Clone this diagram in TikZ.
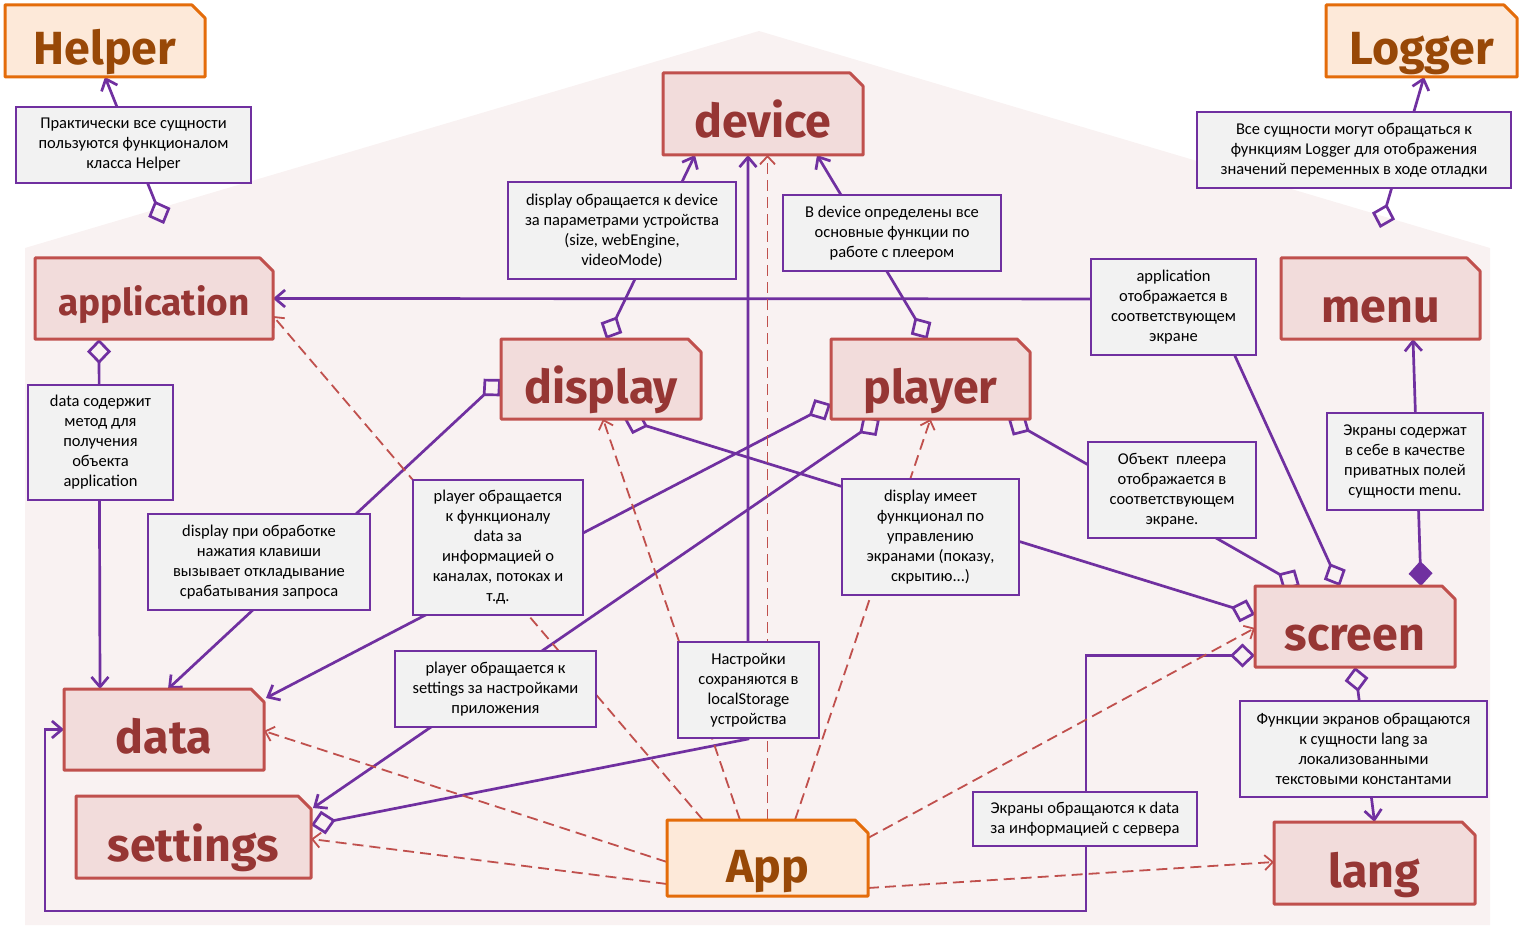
\documentclass[tikz,border=0pt]{standalone}
\usepackage{fontspec}
\setmainfont{Carlito}
\newfontfamily\hfont{Fira Sans}
\usetikzlibrary{arrows.meta,calc}
\pgfdeclarelayer{back}
\pgfdeclarelayer{edges}
\pgfdeclarelayer{boxes}
\pgfsetlayers{back,edges,boxes,main}
\definecolor{pur}{HTML}{7030A0}
\definecolor{redb}{HTML}{C0504D}
\definecolor{redf}{HTML}{F2DCDB}
\definecolor{redt}{HTML}{963634}
\definecolor{orb}{HTML}{E46C0A}
\definecolor{orf}{HTML}{FDE9D9}
\definecolor{ort}{HTML}{984807}
\definecolor{noteg}{HTML}{F2F2F2}
\definecolor{house}{HTML}{F9F2F2}
\begin{document}
\begin{tikzpicture}[x=1pt,y=-1pt,
  cls/.style={rectangle, draw=none, fill=none, outer sep=0pt, inner sep=0pt, text=redt,
    font=\hfont\bfseries\fontsize{46.5}{46.5}\selectfont,
    text height=48pt, text depth=0pt},
  ocls/.style={cls, text=ort},
  redbox/.style={draw=redb, fill=redf, line width=3pt, line join=round},
  orbox/.style={draw=orb, fill=orf, line width=3pt, line join=round},
  note/.style={rectangle, draw=pur, fill=noteg, line width=2.5pt, align=center,
    font=\fontsize{16.5}{20}\selectfont, inner sep=0pt, text=black},
  ln/.style={draw=pur, line width=2.7pt},
  odia/.tip={Diamond[open,length=25pt,width=24pt]},
  fdia/.tip={Diamond[length=25pt,width=24pt]},
  barb/.tip={Straight Barb[length=10pt,width=17pt]},
  agg/.style={ln, odia-barb},
  aggtwo/.style={ln, odia-odia},
  comp/.style={ln, fdia-barb},
  dep/.style={draw=redb, line width=1.8pt, dash pattern=on 11pt off 6pt,
    -{Straight Barb[length=8pt,width=15pt]}}
]
\useasboundingbox (0,0) rectangle (1524,928);
\begin{pgfonlayer}{back}
\fill[house] (25,248) -- (759,31) -- (1490,248) -- (1490,925) -- (25,925) -- cycle;
\end{pgfonlayer}

% class boxes
\node[ocls, minimum width=200pt, minimum height=72pt] (Helper) at (105,41) {Helper};
\node[ocls, minimum width=191pt, minimum height=72pt] (Logger) at (1421.5,41) {Logger};
\node[cls, minimum width=200pt, minimum height=82pt] (device) at (763,114) {device};
\node[cls, minimum width=238pt, minimum height=81pt, font=\hfont\bfseries\fontsize{37}{37}\selectfont, text height=33pt] (application) at (154,298.5) {application};
\node[cls, minimum width=200pt, minimum height=80pt] (display) at (601,379) {display};
\node[cls, minimum width=199pt, minimum height=80pt] (player) at (930.5,379) {player};
\node[cls, minimum width=199pt, minimum height=81pt] (menu) at (1380.5,298.5) {menu};
\node[cls, minimum width=200pt, minimum height=81pt] (screen) at (1355,626.5) {screen};
\node[cls, minimum width=200pt, minimum height=81pt] (data) at (164,729.5) {data};
\node[cls, minimum width=235pt, minimum height=82pt] (settings) at (193.5,837) {settings};
\node[ocls, minimum width=201pt, minimum height=76pt] (App) at (767.5,858) {App};
\node[cls, minimum width=201pt, minimum height=82pt] (lang) at (1374.5,863) {lang};

\begin{pgfonlayer}{boxes}
\foreach \n in {device,application,display,player,menu,screen,data,settings,lang}
  \path[redbox] (\n.south west) -- (\n.north west) -- ($(\n.north east)+(-13,0)$)
    -- ($(\n.north east)+(0,13)$) -- (\n.south east) -- cycle;
\foreach \n in {Helper,Logger,App}
  \path[orbox] (\n.south west) -- (\n.north west) -- ($(\n.north east)+(-13,0)$)
    -- ($(\n.north east)+(0,13)$) -- (\n.south east) -- cycle;
\end{pgfonlayer}

% notes
\node[note, minimum width=235pt, minimum height=76pt] (nHelper) at (133.5,145) {Практически все сущности\\пользуются функционалом\\класса Helper};
\node[note, minimum width=314pt, minimum height=76pt] (nLogger) at (1354,150) {Все сущности могут обращаться к\\функциям Logger для отображения\\значений переменных в ходе отладки};
\node[note, minimum width=228pt, minimum height=97pt] (nDispDev) at (622,230.5) {display обращается к device\\за параметрами устройства\\(size, webEngine,\\videoMode)};
\node[note, minimum width=218pt, minimum height=76pt] (nDevice) at (892,233) {В device определены все\\основные функции по\\работе с плеером};
\node[note, minimum width=165pt, minimum height=96pt] (nApp) at (1173.5,307) {application\\отображается в\\соответствующем\\экране};
\node[note, minimum width=145pt, minimum height=115pt] (nData) at (100.5,442.5) {data содержит\\метод для\\получения\\объекта\\application};
\node[note, minimum width=222pt, minimum height=96pt] (nDispKey) at (259,562) {display при обработке\\нажатия клавиши\\вызывает откладывание\\срабатывания запроса};
\node[note, minimum width=170pt, minimum height=135pt] (nPlayerData) at (498,547.5) {player обращается\\к функционалу\\data за\\информацией о\\каналах, потоках и\\т.д.};
\node[note, minimum width=177pt, minimum height=116pt] (nDispScr) at (930.5,537) {display имеет\\функционал по\\управлению\\экранами (показу,\\скрытию...)};
\node[note, minimum width=168pt, minimum height=96pt] (nPlayerObj) at (1172,490) {Объект\ \ плеера\\отображается в\\соответствующем\\экране.};
\node[note, minimum width=156pt, minimum height=97pt] (nScrMenu) at (1405,461.5) {Экраны содержат\\в себе в качестве\\приватных полей\\сущности menu.};
\node[note, minimum width=247pt, minimum height=96pt] (nScrLang) at (1363.5,749) {Функции экранов обращаются\\к сущности lang за\\локализованными\\текстовыми константами};
\node[note, minimum width=201pt, minimum height=76pt] (nPlayerSet) at (495.5,689) {player обращается к\\settings за настройками\\приложения};
\node[note, minimum width=141pt, minimum height=96pt] (nSettings) at (748.5,690) {Настройки\\сохраняются в\\localStorage\\устройства};
\node[note, minimum width=224pt, minimum height=54pt] (nScrData) at (1085,819) {Экраны обращаются к data\\за информацией с сервера};

\coordinate (hd) at (164,224);
\coordinate (ld) at (1380,228);
\coordinate (sbend) at (748,739);
\coordinate (abend) at (1209,299);
\coordinate (cA) at (1086,911);
\coordinate (cB) at (45,911);

\begin{pgfonlayer}{edges}
% solid purple connectors
\draw[agg] (hd) -- (Helper.south);
\draw[agg] (ld) -- ($(Logger)+(2.5,36)$);
\draw[agg] ($(display)+(5,-40)$) -- ($(device)+(-68,41)$);
\draw[agg] ($(player)+(-3,-40)$) -- ($(device)+(54,41)$);
\draw[agg] ($(settings)+(117.5,-12)$) -- (sbend) -- ($(device)+(-15,41)$);
\draw[agg] ($(screen)+(-15,-40.5)$) -- (abend) -- ($(application)+(119,0)$);
\draw[agg] ($(application)+(-55,40.5)$) -- ($(data)+(-64,-40.5)$);
\draw[agg] ($(display)+(-100,0)$) -- ($(data)+(4,-40.5)$);
\draw[agg] ($(player)+(-99.5,25)$) -- ($(data)+(102,-31.5)$);
\draw[agg] ($(player)+(-50.5,40)$) -- ($(settings)+(119.5,-29)$);
\draw[aggtwo] ($(display)+(23,40)$) -- ($(screen)+(-100,-12)$);
\draw[aggtwo] ($(player)+(77.5,40)$) -- ($(screen)+(-55,-40.5)$);
\draw[comp] ($(screen)+(66,-40.5)$) -- ($(menu)+(32.5,40.5)$);
\draw[agg] (screen.south) -- (lang.north);
\draw[agg] ($(screen)+(-100,29)$) -| (cA) -- (cB) |- (data.west);
% dashed dependencies from App
\draw[dep] ($(App)+(-64.5,-38)$) -- ($(application)+(119,17.5)$);
\draw[dep] ($(App)+(-27.5,-38)$) -- ($(display)+(2,40)$);
\draw[dep] ($(App)+(27.5,-38)$) -- ($(player)+(0,40)$);
\draw[dep] (App.north) -- ($(device)+(4.5,41)$);
\draw[dep] ($(App)+(100.5,-20)$) -- ($(screen)+(-100,1.5)$);
\draw[dep] ($(App)+(100.5,30)$) -- ($(lang)+(-100.5,-1)$);
\draw[dep] ($(App)+(-100.5,4)$) -- ($(data)+(100,1.5)$);
\draw[dep] ($(App)+(-100.5,26)$) -- ($(settings)+(117.5,2)$);
\end{pgfonlayer}
\end{tikzpicture}
\end{document}
